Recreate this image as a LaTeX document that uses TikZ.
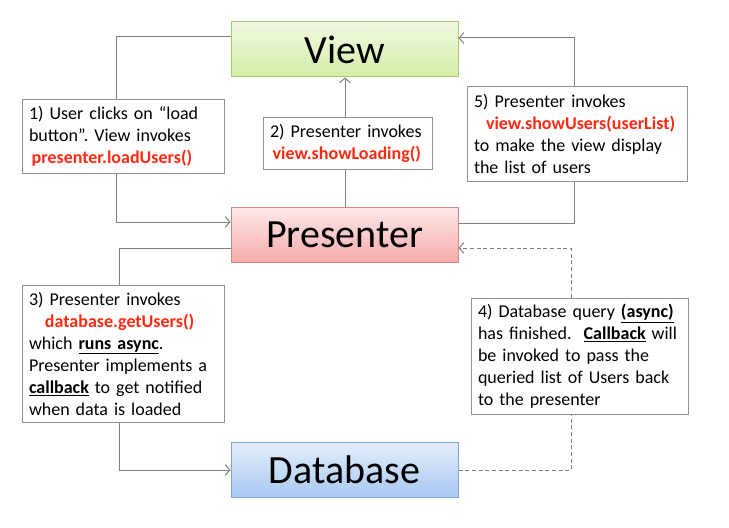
\documentclass[tikz,border=0pt]{standalone}
\usepackage{fontspec}
\setmainfont{Carlito}
\usetikzlibrary{arrows.meta}
\frenchspacing

\definecolor{codered}{HTML}{FF2A12}
\definecolor{linegray}{HTML}{808080}
\definecolor{viewtop}{HTML}{F0F9E2}
\definecolor{viewbot}{HTML}{D3EDA8}
\definecolor{viewline}{HTML}{A8CB6E}
\definecolor{prestop}{HTML}{FFE8E8}
\definecolor{presbot}{HTML}{F4ABAB}
\definecolor{presline}{HTML}{D98585}
\definecolor{datatop}{HTML}{E2EDFC}
\definecolor{databot}{HTML}{A9C8F1}
\definecolor{dataline}{HTML}{7FA6DA}
\newcommand{\redcode}[1]{\textcolor{codered}{\textbf{#1}}}
\newcommand{\bul}[1]{\underline{\textbf{#1}}}

\tikzset{
  big/.style={draw, line width=0.75pt, minimum width=170.25pt, minimum height=41.25pt,
    font=\fontsize{30}{35}\selectfont},
  note/.style={draw=linegray!85, fill=white, line width=0.75pt, align=left,
    inner xsep=5.25pt, font=\fontsize{13.5}{16.5}\selectfont},
  link/.style={draw=linegray, line width=0.75pt},
  linkarrow/.style={link, -{Straight Barb[length=3.5pt,width=8pt]}},
  dlink/.style={link, dash pattern=on 3pt off 2pt},
}

\begin{document}
\begin{tikzpicture}[x=0.75pt, y=-0.75pt]
  \useasboundingbox (0,0) rectangle (729,528);

  % the three components
  \node[big, draw=viewline, top color=viewtop, bottom color=viewbot]
    (view) at (344.5,49.5) {View};
  \node[big, draw=presline, top color=prestop, bottom color=presbot]
    (presenter) at (344.5,235) {Presenter};
  \node[big, draw=dataline, top color=datatop, bottom color=databot]
    (database) at (344.5,470) {Database};

  % the steps
  \node[note, minimum width=151.5pt, minimum height=54.75pt, text width=141pt] (b1) at (123,136.5)
    {1) User clicks on “load\\button”. View invokes\\\hspace{2pt}\redcode{presenter.loadUsers()}};
  \node[note, minimum width=126.75pt, minimum height=38.25pt, text width=116.25pt] (b2) at (347.5,143.5)
    {2) Presenter invokes\\\hspace{2pt}\redcode{view.showLoading()}};
  \node[note, minimum width=151.5pt, minimum height=102.75pt, text width=141pt] (b3) at (123,353.5)
    {3) Presenter invokes\\\hspace{12pt}\redcode{database.getUsers()}\\which \bul{runs async}.\\Presenter implements a\\\bul{callback} to get notified\\when data is loaded};
  \node[note, minimum width=162.75pt, minimum height=87pt, text width=152.25pt] (b4) at (579.5,356)
    {4) Database query \bul{(async)}\\has finished.\ \ \bul{Callback} will\\be invoked to pass the\\queried list of Users back\\to the presenter};
  \node[note, minimum width=165pt, minimum height=70.5pt, text width=154.5pt] (b5) at (577,134)
    {5) Presenter invokes\\\hspace{9pt}\redcode{view.showUsers(userList)}\\to make the view display\\the list of users};

  % connectors
  \draw[link] (view.west |- 0,37) -| (116,0 |- b1.north);
  \draw[linkarrow] (116,0 |- b1.south) |- (presenter.west |- 0,222);

  \draw[link] (345,0 |- presenter.north) -- (345,0 |- b2.south);
  \draw[linkarrow] (345,0 |- b2.north) -- (345,0 |- view.south);

  \draw[link] (presenter.west |- 0,248) -| (119,0 |- b3.north);
  \draw[linkarrow] (119,0 |- b3.south) |- (database.west);

  \draw[dlink] (database.east) -| (571,0 |- b4.south);
  \draw[dlink, -{Straight Barb[length=3.5pt,width=8pt]}] (571,0 |- b4.north) |- (presenter.east |- 0,248);

  \draw[link] (presenter.east |- 0,223) -| (574,0 |- b5.south);
  \draw[linkarrow] (574,0 |- b5.north) |- (view.east |- 0,38);
\end{tikzpicture}
\end{document}
